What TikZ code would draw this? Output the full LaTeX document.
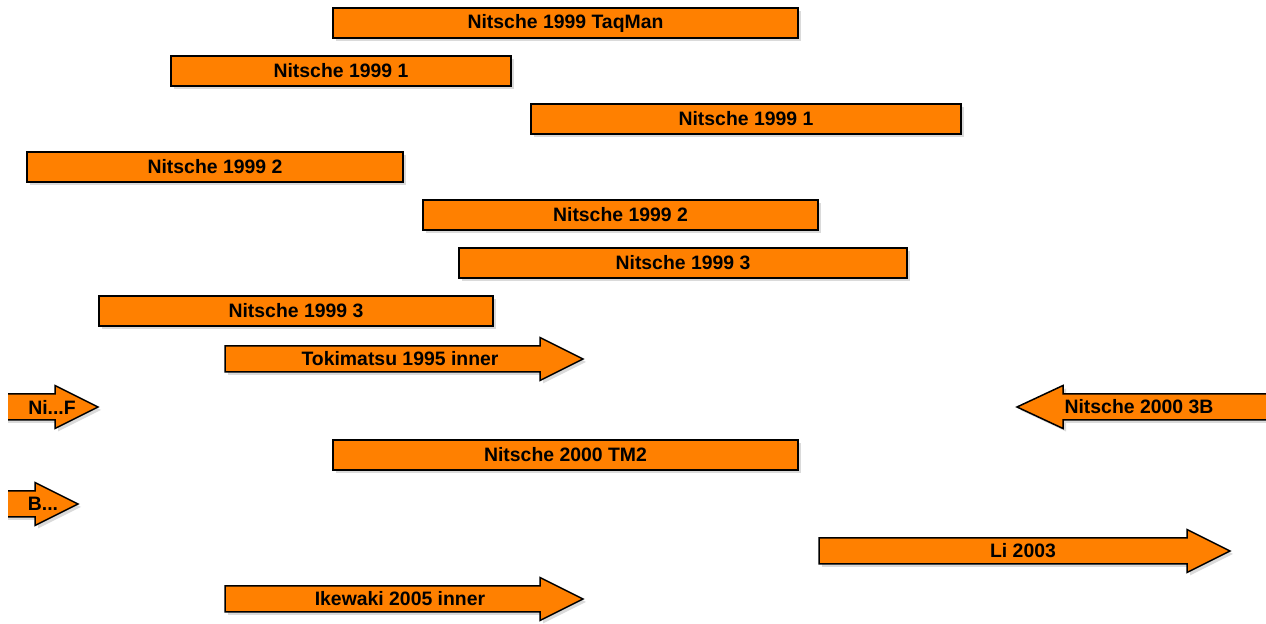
\documentclass[tikz,border=0pt]{standalone}
\usepackage{fontspec}
\setmainfont{Liberation Sans}
\usetikzlibrary{shadows}

\definecolor{barorange}{HTML}{FF8000}

\begin{document}
\begin{tikzpicture}[x=0.5pt,y=-0.5pt,
	shade/.style={drop shadow={shadow xshift=1.5pt,shadow yshift=-1.5pt,fill=black!18,opacity=.8}},
	bar/.style={draw,fill=barorange,line width=0.75pt,minimum height=15pt,inner sep=0pt,shade,font=\fontsize{9.7}{11}\selectfont\bfseries},
	arrowbox/.style={draw,fill=barorange,line width=0.75pt,line join=miter,shade},
	lbl/.style={inner sep=0pt,font=\fontsize{9.7}{11}\selectfont\bfseries}]
		\useasboundingbox (0,0) rectangle (1266,624);
		\clip (8,-20) rectangle (1280,640);
		% plain bars
		\node[bar,minimum width=232.5pt] (taqman) at (565.5,23) {Nitsche 1999 TaqMan};
		\node[bar,minimum width=170pt] (one_a) at (341,71) {Nitsche 1999 1};
		\node[bar,minimum width=215pt] (one_b) at (746,119) {Nitsche 1999 1};
		\node[bar,minimum width=188pt] (two_a) at (215,167) {Nitsche 1999 2};
		\node[bar,minimum width=197.5pt] (two_b) at (620.5,215) {Nitsche 1999 2};
		\node[bar,minimum width=224pt] (three_a) at (683,263) {Nitsche 1999 3};
		\node[bar,minimum width=197pt] (three_b) at (296,311) {Nitsche 1999 3};
		\node[bar,minimum width=232.5pt] (tm2) at (565.5,455) {Nitsche 2000 TM2};
		% arrows
		\draw[arrowbox] (225,346) -- (540,346) -- (540,337.5) -- (583,359) -- (540,380.5) -- (540,372) -- (225,372) -- cycle;
		\node[lbl] (toki) at (400,359) {Tokimatsu 1995 inner};
		\draw[arrowbox] (-10,394) -- (55,394) -- (55,385.5) -- (98,407) -- (55,428.5) -- (55,420) -- (-10,420) -- cycle;
		\node[lbl] (nif) at (52,407) {Ni...F};
		\draw[arrowbox] (1290,394) -- (1063,394) -- (1063,385.5) -- (1017,407) -- (1063,428.5) -- (1063,420) -- (1290,420) -- cycle;
		\node[lbl] (threeb) at (1139,407) {Nitsche 2000 3B};
		\draw[arrowbox] (-10,491) -- (35,491) -- (35,482.5) -- (78,504) -- (35,525.5) -- (35,517) -- (-10,517) -- cycle;
		\node[lbl] (bdots) at (43,504) {B...};
		\draw[arrowbox] (819,538) -- (1187,538) -- (1187,529.5) -- (1230,551) -- (1187,572.5) -- (1187,564) -- (819,564) -- cycle;
		\node[lbl] (li) at (1023,551) {Li 2003};
		\draw[arrowbox] (225,586) -- (540,586) -- (540,577.5) -- (583,599) -- (540,620.5) -- (540,612) -- (225,612) -- cycle;
		\node[lbl] (ikewaki) at (400,599) {Ikewaki 2005 inner};
\end{tikzpicture}
\end{document}
